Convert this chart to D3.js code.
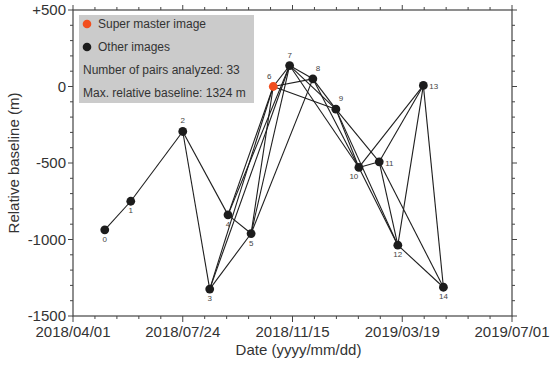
<!DOCTYPE html>
<html>
<head>
<meta charset="utf-8">
<script src="https://cdn.jsdelivr.net/npm/d3@7"></script>
<style>
  body { margin: 0; background: #fff; }
  svg { font-family: "Liberation Sans", Arial, sans-serif; }
</style>
</head>
<body>
<svg width="550" height="370"></svg>
<script>
// acquisition dates and relative baselines (m)
var dates = ["2018-05-04", "2018-05-31", "2018-07-24", "2018-08-21", "2018-09-09",
             "2018-10-03", "2018-10-26", "2018-11-12", "2018-12-08", "2019-01-03",
             "2019-01-29", "2019-02-21", "2019-03-14", "2019-04-08", "2019-04-27"];
var baselines = [-937, -750, -294, -1324, -839, -961, 0, 137, 50, -148, -529, -492, -1037, 7, -1312];
var superMaster = 6;

// interferometric pairs (index of image A, index of image B)
var pairs = [[0,1],[1,2],[2,3],[2,4],[3,5],[4,5],
             [3,6],[3,7],[4,6],[4,7],[5,6],[5,7],[5,8],
             [6,7],[6,8],[6,9],[7,8],[7,9],[7,10],[8,9],[8,10],
             [9,10],[9,11],[9,12],[10,11],[10,12],[10,13],
             [11,12],[11,13],[11,14],[12,13],[12,14],[13,14]];

// axis ticks
var xTickDates = ["2018-04-01", "2018-07-24", "2018-11-15", "2019-03-19", "2019-07-01"];
var yTicks = [500, 0, -500, -1000, -1500];

// where each point's number goes
var labelPlace = ["below", "below", "above", "below", "below", "below", "aboveleft", "above",
                  "aboveright", "aboveright", "belowleft", "right", "below", "right", "below"];

var legendLines = ["Super master image", "Other images",
                   "Number of pairs analyzed: 33", "Max. relative baseline: 1324 m"];

var parseDate = d3.timeParse("%Y-%m-%d"),
    fmtDate = d3.timeFormat("%Y/%m/%d");

var svg = d3.select("svg"),
    pLeft = 73, pRight = 512, pTop = 10, pBottom = 316;

var tickD = xTickDates.map(parseDate);

// tick dates are equally spaced on the axis, so use a piecewise time scale
var x = d3.scaleTime()
    .domain(tickD)
    .range(tickD.map(function (d, i) { return pLeft + i * (pRight - pLeft) / (tickD.length - 1); }));

var y = d3.scaleLinear()
    .domain([-1500, 500])
    .range([pBottom, pTop]);

var points = dates.map(function (d, i) {
    return { i: i, date: parseDate(d), b: baselines[i] };
});

// minor x ticks: 5 per interval
var minorX = [];
for (var s = 0; s < tickD.length - 1; s++) {
    var interp = d3.interpolateDate(tickD[s], tickD[s + 1]);
    for (var k = 1; k < 5; k++) minorX.push(new Date(+interp(k / 5)));
}
var minorY = d3.range(-1500, 501, 100).filter(function (v) { return v % 500 !== 0; });

var ink = "#333";

// frame
svg.append("rect")
    .attr("x", pLeft).attr("y", pTop)
    .attr("width", pRight - pLeft).attr("height", pBottom - pTop)
    .attr("fill", "none").attr("stroke", "#444").attr("stroke-width", 1.2);

var ticks = svg.append("g").attr("stroke", "#444").attr("stroke-width", 1);

// x ticks (bottom and top, pointing outward)
tickD.forEach(function (d) {
    ticks.append("line").attr("x1", x(d)).attr("x2", x(d)).attr("y1", pBottom).attr("y2", pBottom + 6);
    ticks.append("line").attr("x1", x(d)).attr("x2", x(d)).attr("y1", pTop).attr("y2", pTop - 5);
});
minorX.forEach(function (d) {
    ticks.append("line").attr("x1", x(d)).attr("x2", x(d)).attr("y1", pBottom).attr("y2", pBottom + 3);
    ticks.append("line").attr("x1", x(d)).attr("x2", x(d)).attr("y1", pTop).attr("y2", pTop - 3);
});
// y ticks (left and right, pointing outward)
yTicks.forEach(function (v) {
    ticks.append("line").attr("x1", pLeft - 5).attr("x2", pLeft).attr("y1", y(v)).attr("y2", y(v));
    ticks.append("line").attr("x1", pRight).attr("x2", pRight + 5).attr("y1", y(v)).attr("y2", y(v));
});
minorY.forEach(function (v) {
    ticks.append("line").attr("x1", pLeft - 3).attr("x2", pLeft).attr("y1", y(v)).attr("y2", y(v));
    ticks.append("line").attr("x1", pRight).attr("x2", pRight + 3).attr("y1", y(v)).attr("y2", y(v));
});

// tick labels
svg.append("g").selectAll("text")
    .data(tickD)
    .enter().append("text")
    .attr("x", function (d) { return x(d); })
    .attr("y", 337)
    .attr("text-anchor", "middle")
    .attr("font-size", 15)
    .attr("fill", ink)
    .text(function (d) { return fmtDate(d); });

svg.append("g").selectAll("text")
    .data(yTicks)
    .enter().append("text")
    .attr("x", pLeft - 7)
    .attr("y", function (v) { return y(v); })
    .attr("dy", "0.35em")
    .attr("text-anchor", "end")
    .attr("font-size", 15)
    .attr("fill", ink)
    .text(function (v) { return v > 0 ? "+" + v : String(v); });

// axis titles
svg.append("text")
    .attr("x", (pLeft + pRight) / 2 + 6)
    .attr("y", 355)
    .attr("text-anchor", "middle")
    .attr("font-size", 15)
    .attr("fill", ink)
    .text("Date (yyyy/mm/dd)");

svg.append("text")
    .attr("transform", "translate(19," + ((pTop + pBottom) / 2) + ") rotate(-90)")
    .attr("text-anchor", "middle")
    .attr("font-size", 15)
    .attr("fill", ink)
    .text("Relative baseline (m)");

// legend box
var lg = svg.append("g");
lg.append("rect")
    .attr("x", 79).attr("y", 15).attr("width", 175).attr("height", 88)
    .attr("fill", "#cbcbcb");
lg.selectAll("text")
    .data(legendLines)
    .enter().append("text")
    .attr("x", function (d, i) { return i < 2 ? 98 : 83; })
    .attr("y", function (d, i) { return 24 + i * 23; })
    .attr("dy", "0.35em")
    .attr("font-size", 12)
    .attr("fill", ink)
    .text(function (d) { return d; });
lg.append("circle").attr("cx", 87).attr("cy", 24).attr("r", 4.3).attr("fill", "#f24e1e");
lg.append("circle").attr("cx", 87).attr("cy", 47).attr("r", 4.3).attr("fill", "#1c1c1c");

// pair lines
svg.append("g").selectAll("line")
    .data(pairs)
    .enter().append("line")
    .attr("x1", function (p) { return x(points[p[0]].date); })
    .attr("y1", function (p) { return y(points[p[0]].b); })
    .attr("x2", function (p) { return x(points[p[1]].date); })
    .attr("y2", function (p) { return y(points[p[1]].b); })
    .attr("stroke", "#1e1e1e")
    .attr("stroke-width", 1.1);

// images
svg.append("g").selectAll("circle")
    .data(points)
    .enter().append("circle")
    .attr("cx", function (d) { return x(d.date); })
    .attr("cy", function (d) { return y(d.b); })
    .attr("r", 4.4)
    .attr("fill", function (d) { return d.i === superMaster ? "#f24e1e" : "#1c1c1c"; });

// image numbers
var off = {
    below: [0, 12, "middle"], above: [0, -8, "middle"], right: [6, 4, "start"],
    aboveleft: [-4, -8, "middle"], aboveright: [5, -8, "middle"], belowleft: [-5, 12, "middle"]
};
svg.append("g").selectAll("text")
    .data(points)
    .enter().append("text")
    .attr("x", function (d) { return x(d.date) + off[labelPlace[d.i]][0]; })
    .attr("y", function (d) { return y(d.b) + off[labelPlace[d.i]][1]; })
    .attr("text-anchor", function (d) { return off[labelPlace[d.i]][2]; })
    .attr("font-size", 8)
    .attr("fill", "#444")
    .text(function (d) { return d.i; });
</script>
</body>
</html>
